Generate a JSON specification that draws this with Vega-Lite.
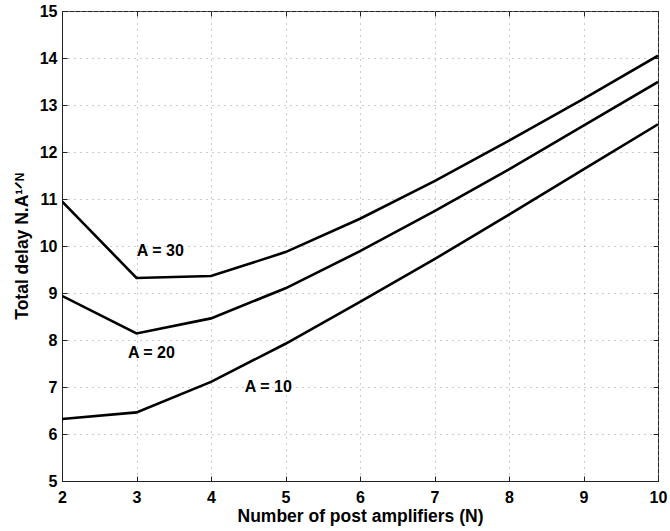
{
  "$schema": "https://vega.github.io/schema/vega-lite/v6.json",
  "width": 596,
  "height": 470,
  "autosize": {"type": "none"},
  "padding": {"left": 62, "top": 11, "right": 12, "bottom": 50},
  "background": "white",
  "config": {
    "font": "Liberation Sans",
    "view": {"stroke": "#222", "strokeWidth": 1},
    "axis": {
      "domainColor": "#222",
      "tickColor": "#222",
      "labelColor": "black",
      "titleColor": "black",
      "labelFont": "Liberation Sans",
      "titleFont": "Liberation Sans",
      "labelFontWeight": "bold",
      "titleFontWeight": "bold",
      "labelFontSize": 16,
      "titleFontSize": 17.5,
      "gridColor": "#999",
      "gridDash": [1, 5],
      "gridWidth": 1,
      "tickSize": -5
    }
  },
  "resolve": {"axis": {"x": "independent", "y": "independent"}},
  "datasets": {
    "curves": [
      {"N": 2, "delay": 6.32, "A": "10"},
      {"N": 3, "delay": 6.46, "A": "10"},
      {"N": 4, "delay": 7.11, "A": "10"},
      {"N": 5, "delay": 7.92, "A": "10"},
      {"N": 6, "delay": 8.81, "A": "10"},
      {"N": 7, "delay": 9.72, "A": "10"},
      {"N": 8, "delay": 10.67, "A": "10"},
      {"N": 9, "delay": 11.63, "A": "10"},
      {"N": 10, "delay": 12.59, "A": "10"},
      {"N": 2, "delay": 8.94, "A": "20"},
      {"N": 3, "delay": 8.14, "A": "20"},
      {"N": 4, "delay": 8.46, "A": "20"},
      {"N": 5, "delay": 9.10, "A": "20"},
      {"N": 6, "delay": 9.89, "A": "20"},
      {"N": 7, "delay": 10.74, "A": "20"},
      {"N": 8, "delay": 11.63, "A": "20"},
      {"N": 9, "delay": 12.56, "A": "20"},
      {"N": 10, "delay": 13.49, "A": "20"},
      {"N": 2, "delay": 10.95, "A": "30"},
      {"N": 3, "delay": 9.32, "A": "30"},
      {"N": 4, "delay": 9.36, "A": "30"},
      {"N": 5, "delay": 9.87, "A": "30"},
      {"N": 6, "delay": 10.58, "A": "30"},
      {"N": 7, "delay": 11.38, "A": "30"},
      {"N": 8, "delay": 12.24, "A": "30"},
      {"N": 9, "delay": 13.13, "A": "30"},
      {"N": 10, "delay": 14.05, "A": "30"}
    ],
    "labels": [
      {"N": 3.32, "delay": 9.9, "text": "A = 30"},
      {"N": 3.2, "delay": 7.73, "text": "A = 20"},
      {"N": 4.77, "delay": 7.0, "text": "A = 10"}
    ]
  },
  "layer": [
    {
      "data": {"name": "curves"},
      "mark": {"type": "line", "color": "black", "strokeWidth": 2.6, "clip": true},
      "encoding": {
        "x": {
          "field": "N", "type": "quantitative",
          "scale": {"domain": [2, 10], "nice": false, "zero": false},
          "axis": {"title": "Number of post amplifiers (N)", "values": [2,3,4,5,6,7,8,9,10], "format": "d", "labelPadding": 13, "titlePadding": 2, "grid": true, "labelFlush": false}
        },
        "y": {
          "field": "delay", "type": "quantitative",
          "scale": {"domain": [5, 15], "nice": false, "zero": false},
          "axis": {"title": "Total delay N.A¹ᐟᴺ", "values": [5,6,7,8,9,10,11,12,13,14,15], "format": "d", "labelPadding": 10, "titlePadding": 8, "grid": true, "labelFlush": false}
        },
        "detail": {"field": "A", "type": "nominal"}
      }
    },
    {
      "data": {"name": "labels"},
      "mark": {"type": "text", "font": "Liberation Sans", "fontWeight": "bold", "fontSize": 16, "color": "black", "align": "center", "baseline": "middle"},
      "encoding": {
        "x": {"field": "N", "type": "quantitative",
          "axis": {"orient": "top", "title": null, "labels": false, "grid": false, "domain": false, "values": [2,3,4,5,6,7,8,9,10]}},
        "y": {"field": "delay", "type": "quantitative",
          "axis": {"orient": "right", "title": null, "labels": false, "grid": false, "domain": false, "values": [5,6,7,8,9,10,11,12,13,14,15]}},
        "text": {"field": "text"}
      }
    }
  ]
}
